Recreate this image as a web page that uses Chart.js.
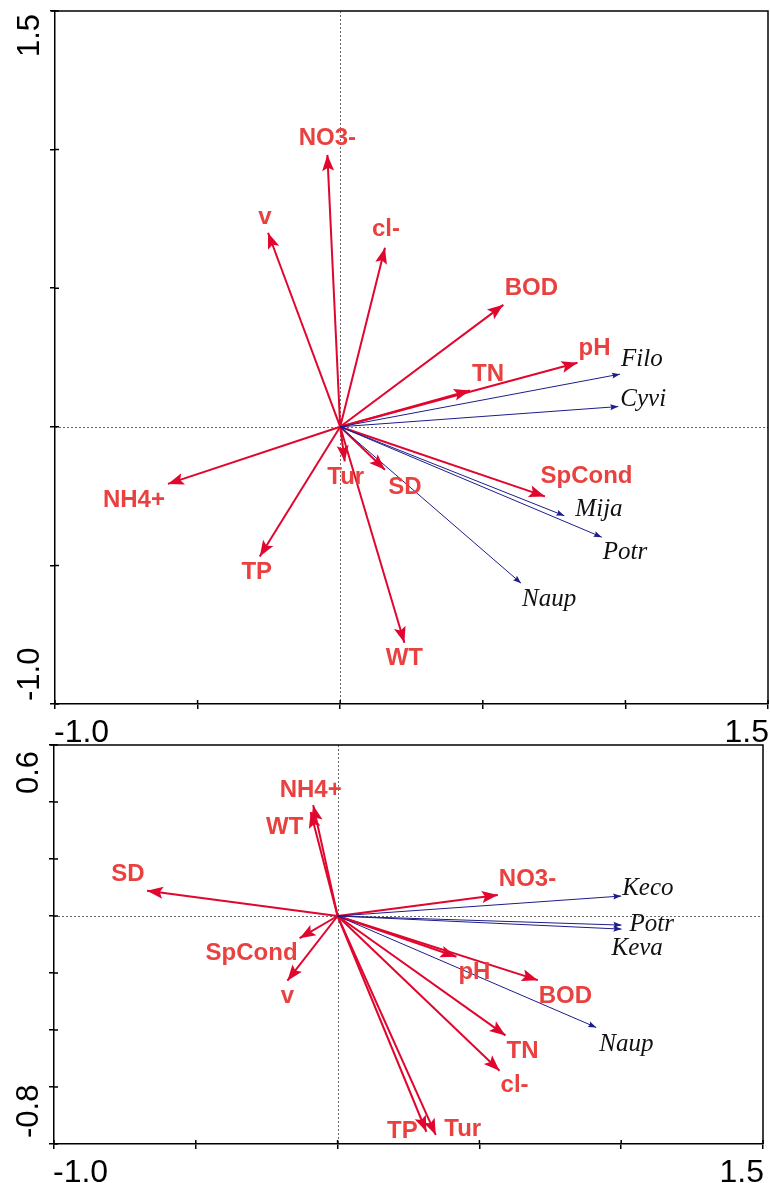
<!DOCTYPE html>
<html>
<head>
<meta charset="utf-8">
<script src="https://cdn.jsdelivr.net/npm/chart.js@4.4.1/dist/chart.umd.min.js"></script>
<style>
html,body{margin:0;padding:0;background:#fff;width:770px;height:1183px;overflow:hidden;}
#c1{position:absolute;left:0;top:0;}
#c2{position:absolute;left:0;top:740px;}
</style>
</head>
<body>
<canvas id="c1" width="770" height="750"></canvas>
<canvas id="c2" width="770" height="443"></canvas>
<script>
// ---------------- DATA ----------------
// Top panel: environmental variables
const topEnvNames = ['NO3-','v','cl-','BOD','pH','TN','NH4+','Tur','TP','SD','WT','SpCond'];
const topEnvX = [-0.045,-0.253,0.157,0.572,0.832,0.455,-0.604,0.016,-0.282,0.157,0.225,0.718];
const topEnvY = [0.981,0.700,0.646,0.440,0.231,0.131,-0.206,-0.125,-0.468,-0.155,-0.779,-0.251];
// Top panel: species
const topSpNames = ['Filo','Cyvi','Mija','Potr','Naup'];
const topSpX = [0.981,0.975,0.786,0.917,0.634];
const topSpY = [0.190,0.073,-0.321,-0.398,-0.564];
// Bottom panel: environmental variables
const botEnvNames = ['NH4+','WT','SD','SpCond','v','NO3-','pH','BOD','TN','cl-','TP','Tur'];
const botEnvX = [-0.086,-0.095,-0.672,-0.134,-0.177,0.565,0.419,0.706,0.592,0.571,0.313,0.346];
const botEnvY = [0.389,0.365,0.089,-0.078,-0.227,0.074,-0.143,-0.225,-0.419,-0.543,-0.757,-0.768];
// Bottom panel: species
const botSpNames = ['Keco','Potr','Keva','Naup'];
const botSpX = [1.000,1.001,1.001,0.912];
const botSpY = [0.070,-0.032,-0.046,-0.391];
// Axis ranges and tick labels
const topXRange = [-1.0, 1.5];
const topYRange = [-1.0, 1.5];
const botXRange = [-1.0, 1.5];
const botYRange = [-0.8, 0.6];
const topXTickLabels = ['-1.0','1.5'];
const topYTickLabels = ['-1.0','1.5'];
const botXTickLabels = ['-1.0','1.5'];
const botYTickLabels = ['-0.8','0.6'];

// ---------------- LAYOUT / STYLE ----------------
const ENV_COLOR = '#e0062e';
const ENV_TEXT = '#e8413f';
const SP_COLOR = '#1c1c8c';
const SANS = '"Liberation Sans", Arial, sans-serif';
const SERIF = '"Liberation Serif", "Times New Roman", serif';

// label offsets (pixels, relative to arrow tip)
const topEnvOff = [[0,-16],[-3,-15.5],[1,-18.5],[28,-16.5],[17,-14],[18,-16],[-34,16.5],[1,16],[-3,16],[20,18],[0,16],[41.5,-20]];
const topSpOff = [[1,-15],[2,-7],[11,-6.5],[1,15],[1,16]];
const botEnvOff = [[-2.5,-14.5],[-26,15.5],[-19,-16.5],[-48,15],[0,15.3],[29.7,-16],[18,16],[27.5,16],[17,16],[15,15],[-24,0],[27,-5.5]];
const botSpOff = [[1,-8],[8,-1],[-10,19],[3,17]];

function makeDatasets(envNames, envX, envY, envOff, spNames, spX, spY, spOff) {
  const ds = [];
  spNames.forEach((n, i) => ds.push({
    label: n, kind: 'sp', showLine: true,
    data: [{x: 0, y: 0}, {x: spX[i], y: spY[i]}],
    borderColor: SP_COLOR, borderWidth: 1, pointRadius: 0, pointHoverRadius: 0,
    off: spOff[i]
  }));
  envNames.forEach((n, i) => ds.push({
    label: n, kind: 'env', showLine: true,
    data: [{x: 0, y: 0}, {x: envX[i], y: envY[i]}],
    borderColor: ENV_COLOR, borderWidth: 2, pointRadius: 0, pointHoverRadius: 0,
    off: envOff[i]
  }));
  return ds;
}

function drawHead(ctx, x, y, ang, L, W, notch, color) {
  ctx.save();
  ctx.translate(x, y);
  ctx.rotate(ang);
  ctx.beginPath();
  ctx.moveTo(0, 0);
  ctx.lineTo(-L, -W);
  ctx.lineTo(-L * notch, 0);
  ctx.lineTo(-L, W);
  ctx.closePath();
  ctx.fillStyle = color;
  ctx.fill();
  ctx.restore();
}

const biplot = {
  id: 'biplot',
  beforeDatasetsDraw(chart) {
    const {ctx, chartArea: a, scales: {x, y}} = chart;
    ctx.save();
    ctx.strokeStyle = '#666';
    ctx.lineWidth = 1;
    ctx.setLineDash([2, 2]);
    const x0 = Math.round(x.getPixelForValue(0)) + 0.5;
    const y0 = Math.round(y.getPixelForValue(0)) + 0.5;
    ctx.beginPath();
    ctx.moveTo(x0, a.top); ctx.lineTo(x0, a.bottom);
    ctx.moveTo(a.left, y0); ctx.lineTo(a.right, y0);
    ctx.stroke();
    ctx.restore();
  },
  afterDatasetsDraw(chart) {
    const ctx = chart.ctx;
    chart.data.datasets.forEach((ds, i) => {
      const meta = chart.getDatasetMeta(i);
      const p0 = meta.data[0], p1 = meta.data[1];
      const ang = Math.atan2(p1.y - p0.y, p1.x - p0.x);
      if (ds.kind === 'env') drawHead(ctx, p1.x, p1.y, ang, 16, 6, 0.8, ENV_COLOR);
      else drawHead(ctx, p1.x, p1.y, ang, 8, 3, 0.85, SP_COLOR);
    });
    chart.data.datasets.forEach((ds, i) => {
      const meta = chart.getDatasetMeta(i);
      const p1 = meta.data[1];
      ctx.save();
      ctx.textBaseline = 'middle';
      if (ds.kind === 'env') {
        ctx.font = 'bold 24px ' + SANS;
        ctx.fillStyle = ENV_TEXT;
        ctx.textAlign = 'center';
      } else {
        ctx.font = 'italic 25px ' + SERIF;
        ctx.fillStyle = '#111';
        ctx.textAlign = 'left';
      }
      ctx.fillText(ds.label, p1.x + ds.off[0], p1.y + ds.off[1]);
      ctx.restore();
    });
  },
  afterDraw(chart, args, opts) {
    const {ctx, chartArea: a, scales: {x, y}} = chart;
    ctx.save();
    ctx.strokeStyle = '#000';
    ctx.lineWidth = 1.5;
    // frame: top and right
    ctx.beginPath();
    ctx.moveTo(a.left - 4, a.top); ctx.lineTo(a.right, a.top); ctx.lineTo(a.right, a.bottom);
    ctx.stroke();
    // inner tick stubs
    ctx.beginPath();
    x.ticks.forEach(t => { const px = x.getPixelForValue(t.value); ctx.moveTo(px, a.bottom); ctx.lineTo(px, a.bottom - 4); });
    y.ticks.forEach(t => { const py = y.getPixelForValue(t.value); ctx.moveTo(a.left, py); ctx.lineTo(a.left + 4, py); });
    ctx.stroke();
    // x tick labels (min / max)
    ctx.fillStyle = '#000';
    ctx.font = '32px ' + SANS;
    ctx.textBaseline = 'alphabetic';
    const xl = opts.xLabels, yl = opts.yLabels;
    ctx.textAlign = 'left';
    ctx.fillText(xl[0], x.getPixelForValue(x.min) - 1, a.bottom + 38);
    ctx.textAlign = 'right';
    ctx.fillText(xl[1], x.getPixelForValue(x.max) + 1, a.bottom + 38);
    // y tick labels (rotated)
    ctx.font = '31px ' + SANS;
    const bx = a.left - 16;
    ctx.save();
    ctx.translate(bx, y.getPixelForValue(y.min) - opts.yInsetBottom);
    ctx.rotate(-Math.PI / 2);
    ctx.textAlign = 'left';
    ctx.fillText(yl[0], 0, 0);
    ctx.restore();
    ctx.save();
    ctx.translate(bx, y.getPixelForValue(y.max) + opts.yInsetTop);
    ctx.rotate(-Math.PI / 2);
    ctx.textAlign = 'right';
    ctx.fillText(yl[1], 0, 0);
    ctx.restore();
    ctx.restore();
  }
};

function axisOpts(range, step, fitProp, fitVal, pos) {
  return {
    type: 'linear', position: pos, min: range[0], max: range[1],
    ticks: {display: false, stepSize: step},
    grid: {display: true, drawOnChartArea: false, drawTicks: true, tickLength: 5, color: '#000', lineWidth: 1.5},
    border: {display: true, color: '#000', width: 1.5},
    afterFit(s) { s[fitProp] = fitVal; }
  };
}

function makeChart(id, datasets, xr, yr, ystep, pad, yW, xH, xLabels, yLabels, yInsetTop, yInsetBottom) {
  return new Chart(document.getElementById(id), {
    type: 'scatter',
    data: {datasets},
    options: {
      responsive: false, animation: false, devicePixelRatio: 1,
      layout: {padding: pad},
      events: [],
      plugins: {
        legend: {display: false}, tooltip: {enabled: false},
        biplot: {xLabels, yLabels, yInsetTop, yInsetBottom}
      },
      scales: {
        x: axisOpts(xr, 0.5, 'height', xH, 'bottom'),
        y: axisOpts(yr, ystep, 'width', yW, 'left')
      }
    },
    plugins: [biplot]
  });
}

makeChart('c1',
  makeDatasets(topEnvNames, topEnvX, topEnvY, topEnvOff, topSpNames, topSpX, topSpY, topSpOff),
  topXRange, topYRange, 0.5, {left: 0, top: 11, right: 2, bottom: 0}, 55, 46,
  topXTickLabels, topYTickLabels, 3, 3);

makeChart('c2',
  makeDatasets(botEnvNames, botEnvX, botEnvY, botEnvOff, botSpNames, botSpX, botSpY, botSpOff),
  botXRange, botYRange, 0.2, {left: 0, top: 5, right: 7, bottom: 0}, 54, 39,
  botXTickLabels, botYTickLabels, 6, 6);
</script>
</body>
</html>
